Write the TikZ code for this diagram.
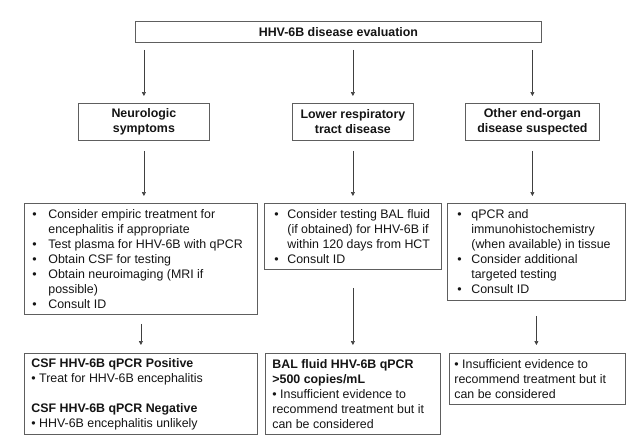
\documentclass[tikz,border=0pt]{standalone}
\usepackage{fontspec}
\setmainfont{Liberation Sans}
\usetikzlibrary{arrows.meta}
\definecolor{bordc}{HTML}{5E5E5E}
\definecolor{arrc}{HTML}{404040}
\definecolor{txtc}{HTML}{141414}
\newcommand\bodyfont{\fontsize{12.4}{15}\selectfont}
\newcommand\bul[3]{\hbox to \hsize{\hspace*{#1}\makebox[#2][l]{\textbullet}#3\hfil}}
\newcommand\plainl[2]{\hbox to \hsize{\hspace*{#1}#2\hfil}}
\begin{document}
\begin{tikzpicture}[x=1pt,y=-1pt,
  box/.style={draw=bordc, line width=0.8pt, inner sep=0pt, anchor=north west, text=txtc},
  headbox/.style={box, align=center, font=\fontsize{12.4}{15}\selectfont\bfseries},
  arr/.style={draw=arrc, line width=0.6pt, -{Triangle[length=4pt,width=4pt]}}]
\useasboundingbox (0,0) rectangle (632,440);

% top
\node[headbox, minimum width=406pt, minimum height=21pt] (top) at (135,21) {HHV-6B disease evaluation};

% row 2
\node[headbox, minimum width=131pt, minimum height=37pt] (neuro) at (78,103) {Neurologic\\symptoms};
\node[headbox, minimum width=121pt, minimum height=37pt] (lrt) at (292,103) {Lower respiratory\\tract disease};
\node[headbox, minimum width=134pt, minimum height=37pt] (other) at (465,103) {Other end-organ\\disease suspected};

% row 3
\node[box, minimum width=233pt, minimum height=111pt] (l1) at (24,203) {\parbox{233pt}{\bodyfont
  \bul{8pt}{16pt}{Consider empiric treatment for}
  \plainl{24pt}{encephalitis if appropriate}
  \bul{8pt}{16pt}{Test plasma for HHV-6B with qPCR}
  \bul{8pt}{16pt}{Obtain CSF for testing}
  \bul{8pt}{16pt}{Obtain neuroimaging (MRI if}
  \plainl{24pt}{possible)}
  \bul{8pt}{16pt}{Consult ID}}};
\node[box, minimum width=177pt, minimum height=66pt] (l2) at (264,203) {\parbox{177pt}{\bodyfont
  \bul{10pt}{13pt}{Consider testing BAL fluid}
  \plainl{23pt}{(if obtained) for HHV-6B if}
  \plainl{23pt}{within 120 days from HCT}
  \bul{10pt}{13pt}{Consult ID}}};
\node[box, minimum width=178pt, minimum height=97pt] (l3) at (447,203) {\parbox{178pt}{\bodyfont
  \bul{10pt}{14pt}{qPCR and}
  \plainl{24pt}{immunohistochemistry}
  \plainl{24pt}{(when available) in tissue}
  \bul{10pt}{14pt}{Consider additional}
  \plainl{24pt}{targeted testing}
  \bul{10pt}{14pt}{Consult ID}}};

% row 4
\node[box, minimum width=233pt, minimum height=81pt] (r1) at (24,353) {\parbox{233pt}{\bodyfont
  \plainl{7pt}{\bfseries CSF HHV-6B qPCR Positive}
  \plainl{7pt}{\textbullet{} Treat for HHV-6B encephalitis}
  \vskip 15pt
  \plainl{7pt}{\bfseries CSF HHV-6B qPCR Negative}
  \plainl{7pt}{\textbullet{} HHV-6B encephalitis unlikely}}};
\node[box, minimum width=175pt, minimum height=81pt] (r2) at (265,353) {\parbox{175pt}{\bodyfont
  \plainl{7pt}{\bfseries BAL fluid HHV-6B qPCR}
  \plainl{7pt}{\bfseries >500 copies/mL}
  \plainl{7pt}{\textbullet{} Insufficient evidence to}
  \plainl{7pt}{recommend treatment but it}
  \plainl{7pt}{can be considered}}};
\node[box, minimum width=176pt, minimum height=51pt] (r3) at (449,353) {\parbox{176pt}{\bodyfont
  \plainl{5pt}{\textbullet{} Insufficient evidence to}
  \plainl{5pt}{recommend treatment but it}
  \plainl{5pt}{can be considered}}};

% arrows
\draw[arr, shorten <=7pt, shorten >=7pt] (top.south -| neuro.north) -- (neuro.north);
\draw[arr, shorten <=7pt, shorten >=7pt] (top.south -| lrt.north) -- (lrt.north);
\draw[arr, shorten <=7pt, shorten >=7pt] (top.south -| other.north) -- (other.north);
\draw[arr, shorten <=10pt, shorten >=7pt] (neuro.south) -- (neuro.south |- l1.north);
\draw[arr, shorten <=10pt, shorten >=7pt] (lrt.south) -- (lrt.south |- l2.north);
\draw[arr, shorten <=10pt, shorten >=7pt] (other.south) -- (other.south |- l3.north);
\draw[arr, shorten <=9pt, shorten >=8pt] (l1.south) -- (l1.south |- r1.north);
\draw[arr, shorten <=18pt, shorten >=8pt] (l2.south) -- (l2.south |- r2.north);
\draw[arr, shorten <=15pt, shorten >=8pt] (l3.south) -- (l3.south |- r3.north);
\end{tikzpicture}
\end{document}
